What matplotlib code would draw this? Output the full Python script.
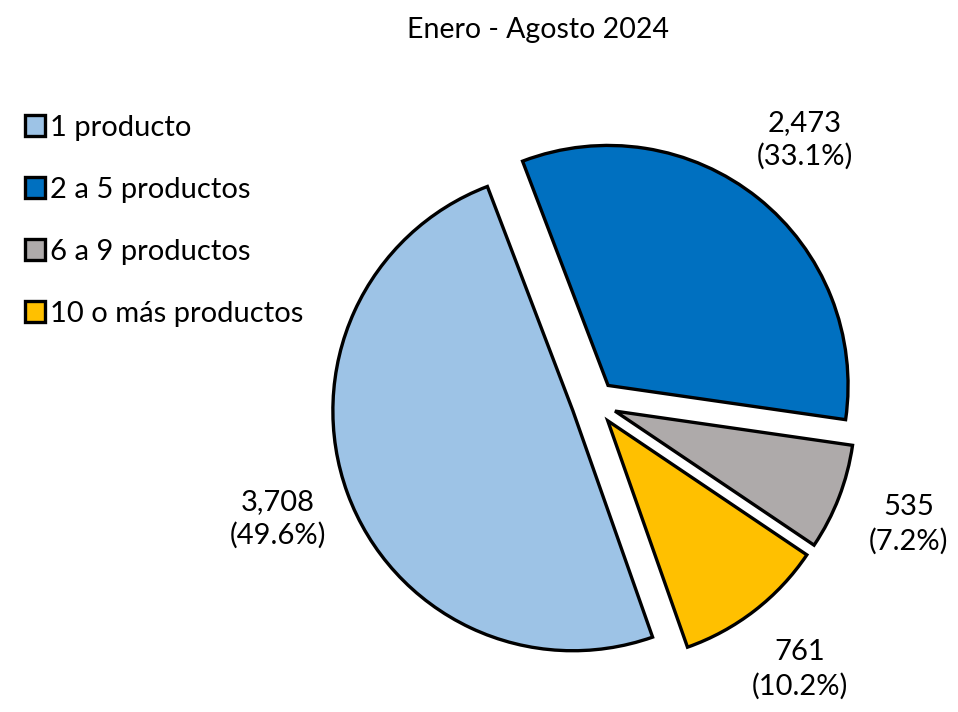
# Pie chart: productos por cliente, Enero - Agosto 2024

import matplotlib
matplotlib.use('Agg')
import matplotlib.pyplot as plt

categories = ['1 producto', '2 a 5 productos', '6 a 9 productos', '10 o más productos']
values = [3708, 2473, 535, 761]
colors = ['#9DC3E6', '#0070C0', '#AEAAAA', '#FFC000']
title = 'Enero - Agosto 2024'

plt.rcParams['font.family'] = ['Lato', 'DejaVu Sans']

W, H = 958, 712
total = sum(values)
labels = [f'{v:,}\n({v / total * 100:.1f}%)' for v in values]

fig = plt.figure(figsize = (W / 100, H / 100), dpi = 100)
ax = fig.add_axes([0, 0, 1, 1])

radius = 240
center = (594, H - 403)
# explode is in data units (pixels here), not a fraction of the radius
wedges, texts = ax.pie(values, labels = labels, colors = colors, radius = radius, center = center,
                       startangle = 289.4, counterclock = False, explode = [22.5] * 4,
                       labeldistance = 1.31,
                       wedgeprops = dict(edgecolor = 'black', linewidth = 2.4),
                       textprops = dict(fontsize = 21, linespacing = 1.35))
for t in texts:
    t.set_ha('center')
    t.set_va('center')

ax.set_xlim(0, W)
ax.set_ylim(0, H)
ax.set_aspect('equal')
ax.axis('off')

fig.text(538 / W, 1 - 30 / H, title, ha = 'center', va = 'center', fontsize = 20.5)

fig.legend(wedges, categories, loc = 'upper left', bbox_to_anchor = (0.014, 0.855),
           frameon = False, fontsize = 21, handlelength = 0.7, handleheight = 0.7,
           handletextpad = 0.15, labelspacing = 1.23, borderaxespad = 0)

fig.savefig('out.png', dpi = 100)
